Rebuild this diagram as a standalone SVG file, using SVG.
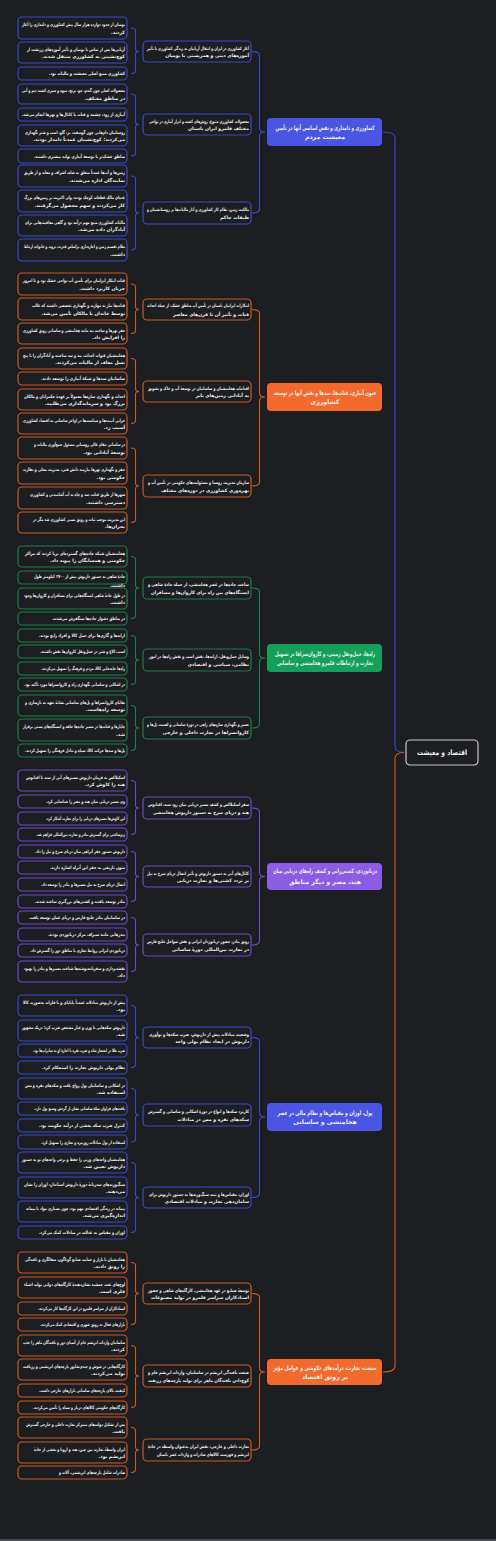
<svg xmlns="http://www.w3.org/2000/svg" width="496" height="1541" viewBox="0 0 496 1541">
<style>
text{font-family:"DejaVu Sans","Noto Sans",sans-serif;fill:#f2f2f2;font-weight:bold;}
.t{font-size:4.6px;direction:rtl;text-anchor:start;}
.tm{font-size:6.2px;text-anchor:middle;direction:rtl;}
.tr{font-size:7.5px;text-anchor:middle;direction:rtl;}
rect{stroke-width:1.2;}
.leaf rect{fill:#1d1e22;}
.cb rect{stroke:#3c48cc;} .co rect{stroke:#c85a22;} .cg rect{stroke:#1a8049;} .cp rect{stroke:#7048c9;}
.main rect{stroke:none;}
.mb rect{fill:#4b55e3;} .mo rect{fill:#f26b2c;} .mg rect{fill:#14a05a;} .mp rect{fill:#8c5ce4;}
#links path{fill:none;stroke-width:1.1;}
.lb{stroke:#3c48cc;} .lo{stroke:#c85a22;} .lg{stroke:#1a8049;} .lp{stroke:#7048c9;}
</style>
<rect width="496" height="1541" fill="#1d1e22"/>
<rect x="0" y="1539" width="496" height="2" fill="#4a4b50"/>

<g id="links">
<path class="lb" stroke-width="1.5" d="M383,132 Q395,132 395,138 L395,746 Q395,752.5 404,752.5"/>
<path class="lo" stroke-width="1.5" d="M404,752.5 Q395,752.5 395,759 L395,1366 Q395,1372 383,1372"/>
<path class="lb" d="M252,51.5 Q259.5,51.5 259.5,55.5 L259.5,128 Q259.5,132 265,132 Q259.5,132 259.5,136 L259.5,209 Q259.5,213 252,213"/>
<path class="lo" d="M252,309.5 Q259.5,309.5 259.5,313.5 L259.5,393 Q259.5,397 265,397 Q259.5,397 259.5,401 L259.5,482 Q259.5,486 252,486"/>
<path class="lg" d="M252,588 Q259.5,588 259.5,592 L259.5,654 Q259.5,658 265,658 Q259.5,658 259.5,662 L259.5,724 Q259.5,728 252,728"/>
<path class="lp" d="M252,808 Q259.5,808 259.5,812 L259.5,872.5 Q259.5,876.5 265,876.5 Q259.5,876.5 259.5,880.5 L259.5,941 Q259.5,945 252,945"/>
<path class="lb" d="M252,1037.5 Q259.5,1037.5 259.5,1041.5 L259.5,1113 Q259.5,1117 265,1117 Q259.5,1117 259.5,1121 L259.5,1193.5 Q259.5,1197.5 252,1197.5"/>
<path class="lo" d="M252,1293.5 Q259.5,1293.5 259.5,1297.5 L259.5,1368 Q259.5,1372 265,1372 Q259.5,1372 259.5,1376 L259.5,1446 Q259.5,1450 252,1450"/>
<path class="lb" d="M131,28 Q135.5,28 135.5,31 L135.5,48.5 Q135.5,51.5 139,51.5 Q135.5,51.5 135.5,54.5 L135.5,70.5 Q135.5,73.5 131,73.5"/>
<path class="lb" d="M131,94 Q135.5,94 135.5,97 L135.5,121.5 Q135.5,124.5 139,124.5 Q135.5,124.5 135.5,127.5 L135.5,153 Q135.5,156 131,156"/>
<path class="lb" d="M131,176 Q135.5,176 135.5,179 L135.5,210 Q135.5,213 139,213 Q135.5,213 135.5,216 L135.5,247 Q135.5,250 131,250"/>
<path class="lo" d="M131,284 Q135.5,284 135.5,287 L135.5,306.5 Q135.5,309.5 139,309.5 Q135.5,309.5 135.5,312.5 L135.5,330.5 Q135.5,333.5 131,333.5"/>
<path class="lo" d="M131,358.5 Q135.5,358.5 135.5,361.5 L135.5,388.5 Q135.5,391.5 139,391.5 Q135.5,391.5 135.5,394.5 L135.5,420.5 Q135.5,423.5 131,423.5"/>
<path class="lo" d="M131,448 Q135.5,448 135.5,451 L135.5,483 Q135.5,486 139,486 Q135.5,486 135.5,489 L135.5,519.5 Q135.5,522.5 131,522.5"/>
<path class="lg" d="M131,556.5 Q135.5,556.5 135.5,559.5 L135.5,585 Q135.5,588 139,588 Q135.5,588 135.5,591 L135.5,615.5 Q135.5,618.5 131,618.5"/>
<path class="lg" d="M131,635.5 Q135.5,635.5 135.5,638.5 L135.5,657 Q135.5,660 139,660 Q135.5,660 135.5,663 L135.5,681.5 Q135.5,684.5 131,684.5"/>
<path class="lg" d="M131,705.5 Q135.5,705.5 135.5,708.5 L135.5,725 Q135.5,728 139,728 Q135.5,728 135.5,731 L135.5,747.5 Q135.5,750.5 131,750.5"/>
<path class="lp" d="M131,780.5 Q135.5,780.5 135.5,783.5 L135.5,805 Q135.5,808 139,808 Q135.5,808 135.5,811 L135.5,831.5 Q135.5,834.5 131,834.5"/>
<path class="lp" d="M131,851.5 Q135.5,851.5 135.5,854.5 L135.5,873.5 Q135.5,876.5 139,876.5 Q135.5,876.5 135.5,879.5 L135.5,898.5 Q135.5,901.5 131,901.5"/>
<path class="lp" d="M131,917.5 Q135.5,917.5 135.5,920.5 L135.5,942 Q135.5,945 139,945 Q135.5,945 135.5,948 L135.5,968.5 Q135.5,971.5 131,971.5"/>
<path class="lb" d="M131,1005.5 Q135.5,1005.5 135.5,1008.5 L135.5,1034.5 Q135.5,1037.5 139,1037.5 Q135.5,1037.5 135.5,1040.5 L135.5,1064.5 Q135.5,1067.5 131,1067.5"/>
<path class="lb" d="M131,1088.5 Q135.5,1088.5 135.5,1091.5 L135.5,1112 Q135.5,1115 139,1115 Q135.5,1115 135.5,1118 L135.5,1139 Q135.5,1142 131,1142"/>
<path class="lb" d="M131,1162.5 Q135.5,1162.5 135.5,1165.5 L135.5,1194.5 Q135.5,1197.5 139,1197.5 Q135.5,1197.5 135.5,1200.5 L135.5,1229.5 Q135.5,1232.5 131,1232.5"/>
<path class="lo" d="M131,1262.5 Q135.5,1262.5 135.5,1265.5 L135.5,1290.5 Q135.5,1293.5 139,1293.5 Q135.5,1293.5 135.5,1296.5 L135.5,1321.5 Q135.5,1324.5 131,1324.5"/>
<path class="lo" d="M131,1345.5 Q135.5,1345.5 135.5,1348.5 L135.5,1373 Q135.5,1376 139,1376 Q135.5,1376 135.5,1379 L135.5,1404.5 Q135.5,1407.5 131,1407.5"/>
<path class="lo" d="M131,1427.5 Q135.5,1427.5 135.5,1430.5 L135.5,1447 Q135.5,1450 139,1450 Q135.5,1450 135.5,1453 L135.5,1469.5 Q135.5,1472.5 131,1472.5"/>
</g>

<g id="root"><rect x="406" y="740" width="72" height="25" rx="4" fill="#1d1e22" stroke="#c8c8c8"/><text class="tr" x="442" y="755.3" textLength="50" lengthAdjust="spacingAndGlyphs">اقتصاد و معیشت</text></g>

<g id="m1" class="main mb"><rect x="267" y="118" width="115" height="28" rx="4"/><text class="tm" x="325" y="129.7" textLength="99" lengthAdjust="spacingAndGlyphs">کشاورزی و دامداری و نقش اساسی آنها در تأمین</text><text class="tm" x="325" y="139">معیشت مردم</text></g>
<g id="m2" class="main mo"><rect x="267" y="383" width="115" height="28" rx="4"/><text class="tm" x="325" y="394.7" textLength="102" lengthAdjust="spacingAndGlyphs">فنون آبیاری، قنات‌ها، سدها و نقش آنها در توسعه</text><text class="tm" x="325" y="404">کشاورزی</text></g>
<g id="m3" class="main mg"><rect x="267" y="644" width="115" height="28" rx="4"/><text class="tm" x="325" y="655.7" textLength="100" lengthAdjust="spacingAndGlyphs">راه‌ها، حمل‌ونقل زمینی، و کاروان‌سراها در تسهیل</text><text class="tm" x="325" y="665" textLength="96" lengthAdjust="spacingAndGlyphs">تجارت و ارتباطات قلمرو هخامنشی و ساسانی</text></g>
<g id="m4" class="main mp"><rect x="267" y="863" width="115" height="27" rx="4"/><text class="tm" x="325" y="873.4" textLength="104" lengthAdjust="spacingAndGlyphs">دریانوردی، کشتی‌رانی و کشف راه‌های دریایی میان</text><text class="tm" x="325" y="884.2">هند، مصر و دیگر مناطق</text></g>
<g id="m5" class="main mb"><rect x="267" y="1103" width="115" height="28" rx="4"/><text class="tm" x="325" y="1114.7" textLength="95" lengthAdjust="spacingAndGlyphs">پول، اوزان و مقیاس‌ها و نظام مالی در عصر</text><text class="tm" x="325" y="1124">هخامنشی و ساسانی</text></g>
<g id="m6" class="main mo"><rect x="267" y="1359" width="115" height="26" rx="4"/><text class="tm" x="325" y="1369.7" textLength="103" lengthAdjust="spacingAndGlyphs">صنعت، تجارت، درآمدهای حکومتی و عوامل مؤثر</text><text class="tm" x="325" y="1379">بر رونق اقتصاد</text></g>

<g id="s1a" class="leaf cb"><rect x="143" y="41" width="108" height="21" rx="4"/><text class="t" x="249" y="49.6" textLength="102" lengthAdjust="spacingAndGlyphs">آغاز کشاورزی در ایران و انتقال آریاییان به زندگی کشاورزی با تأثیر</text><text class="t" x="249" y="57.2">آموزه‌های دینی و همزیستی با بومیان</text></g>
<g id="s1b" class="leaf cb"><rect x="143" y="114" width="108" height="21" rx="4"/><text class="t" x="249" y="122.6" textLength="100" lengthAdjust="spacingAndGlyphs">محصولات کشاورزی متنوع، روش‌های کشت و ابزار آبیاری در نواحی</text><text class="t" x="249" y="130.2">مختلف قلمرو ایران باستان</text></g>
<g id="s1c" class="leaf cb"><rect x="143" y="202" width="108" height="22" rx="4"/><text class="t" x="249" y="211.1" textLength="102" lengthAdjust="spacingAndGlyphs">مالکیت زمین، نظام کار کشاورزی و آثار مالیات‌ها بر روستانشینان و</text><text class="t" x="249" y="218.7">طبقات حاکم</text></g>
<g id="s2a" class="leaf co"><rect x="143" y="299" width="108" height="21" rx="4"/><text class="t" x="249" y="307.2" textLength="102" lengthAdjust="spacingAndGlyphs">ابتکارات ایرانیان باستان در تأمین آب مناطق خشک، از جمله احداث</text><text class="t" x="249" y="315.6">قنات و تأثیر آن تا قرن‌های معاصر</text></g>
<g id="s2b" class="leaf co"><rect x="143" y="381" width="108" height="21" rx="4"/><text class="t" x="249" y="389.6" textLength="101" lengthAdjust="spacingAndGlyphs">اقدامات هخامنشیان و ساسانیان در توسعهٔ آب و خاک و تشویق</text><text class="t" x="249" y="397.2">به آبادانی زمین‌های بایر</text></g>
<g id="s2c" class="leaf co"><rect x="143" y="475" width="108" height="22" rx="4"/><text class="t" x="249" y="484.1" textLength="101" lengthAdjust="spacingAndGlyphs">سازمان مدیریت روستا و مسئولیت‌های حکومتی در تأمین آب و</text><text class="t" x="249" y="491.7">بهره‌وری کشاورزی در دوره‌های مختلف</text></g>
<g id="s3a" class="leaf cg"><rect x="143" y="577" width="108" height="22" rx="4"/><text class="t" x="249" y="586.1" textLength="101" lengthAdjust="spacingAndGlyphs">ساخت جاده‌ها در عصر هخامنشی، از جمله جادهٔ شاهی و</text><text class="t" x="249" y="593.7" textLength="98" lengthAdjust="spacingAndGlyphs">ایستگاه‌های بین راه برای کاروان‌ها و مسافران</text></g>
<g id="s3b" class="leaf cg"><rect x="143" y="649" width="108" height="22" rx="4"/><text class="t" x="249" y="658.1" textLength="100" lengthAdjust="spacingAndGlyphs">وسایل حمل‌ونقل، ارابه‌ها، نقش اسب و نقش راه‌ها در امور</text><text class="t" x="249" y="665.7">نظامی، سیاسی و اقتصادی</text></g>
<g id="s3c" class="leaf cg"><rect x="143" y="717" width="108" height="22" rx="4"/><text class="t" x="249" y="726.1" textLength="102" lengthAdjust="spacingAndGlyphs">تعمیر و نگهداری سازه‌های راهی در دورهٔ ساسانی و اهمیت پل‌ها و</text><text class="t" x="249" y="733.7">کاروانسراها در تجارت داخلی و خارجی</text></g>
<g id="s4a" class="leaf cp"><rect x="143" y="797" width="108" height="22" rx="4"/><text class="t" x="249" y="806.1" textLength="101" lengthAdjust="spacingAndGlyphs">سفر اسکیلاکس و کشف مسیر دریایی میان رود سند، اقیانوس</text><text class="t" x="249" y="813.7" textLength="96" lengthAdjust="spacingAndGlyphs">هند و دریای سرخ به دستور داریوش هخامنشی</text></g>
<g id="s4b" class="leaf cp"><rect x="143" y="866" width="108" height="21" rx="4"/><text class="t" x="249" y="874.6" textLength="102" lengthAdjust="spacingAndGlyphs">کانال‌های آبی به دستور داریوش و تأثیر اتصال دریای سرخ به نیل</text><text class="t" x="249" y="882.2">بر تردد کشتی‌ها و تجارت دریایی</text></g>
<g id="s4c" class="leaf cp"><rect x="143" y="934" width="108" height="22" rx="4"/><text class="t" x="249" y="943.1" textLength="102" lengthAdjust="spacingAndGlyphs">رونق بنادر، حضور دریانوردان ایرانی و نقش سواحل خلیج فارس</text><text class="t" x="249" y="950.7">در تجارت بین‌المللی دورهٔ ساسانی</text></g>
<g id="s5a" class="leaf cb"><rect x="143" y="1027" width="108" height="21" rx="4"/><text class="t" x="249" y="1035.6" textLength="100" lengthAdjust="spacingAndGlyphs">وضعیت مبادلات پیش از داریوش، ضرب سکه‌ها و نوآوری</text><text class="t" x="249" y="1043.2">داریوش در ایجاد نظام پولی واحد</text></g>
<g id="s5b" class="leaf cb"><rect x="143" y="1104" width="108" height="22" rx="4"/><text class="t" x="249" y="1113.1" textLength="101" lengthAdjust="spacingAndGlyphs">کاربرد سکه‌ها و انواع در دورهٔ اشکانی و ساسانی و گسترش</text><text class="t" x="249" y="1120.7">سکه‌های نقره و مس در مبادلات</text></g>
<g id="s5c" class="leaf cb"><rect x="143" y="1187" width="108" height="21" rx="4"/><text class="t" x="249" y="1195.6" textLength="100" lengthAdjust="spacingAndGlyphs">اوزان، مقیاس‌ها و ثبت سنگ‌وزنه‌ها به دستور داریوش برای</text><text class="t" x="249" y="1203.2">سامان‌دهی تجارت و مبادلات اقتصادی</text></g>
<g id="s6a" class="leaf co"><rect x="143" y="1283" width="108" height="21" rx="4"/><text class="t" x="249" y="1291.6" textLength="101" lengthAdjust="spacingAndGlyphs">توسعهٔ صنایع در عهد هخامنشی، کارگاه‌های شاهی و حضور</text><text class="t" x="249" y="1299.2" textLength="98" lengthAdjust="spacingAndGlyphs">استادکاران سراسر قلمرو در تولید مصنوعات</text></g>
<g id="s6b" class="leaf co"><rect x="143" y="1365" width="108" height="22" rx="4"/><text class="t" x="249" y="1374.1" textLength="101" lengthAdjust="spacingAndGlyphs">صنعت بافندگی ابریشم در ساسانیان، واردات ابریشم خام و</text><text class="t" x="249" y="1381.7" textLength="101" lengthAdjust="spacingAndGlyphs">کوچ‌دادن بافندگان ماهر برای تولید پارچه‌های زربفت</text></g>
<g id="s6c" class="leaf co"><rect x="143" y="1439" width="108" height="22" rx="4"/><text class="t" x="249" y="1448.1" textLength="101" lengthAdjust="spacingAndGlyphs">تجارت داخلی و خارجی، نقش ایران به‌عنوان واسطه در جادهٔ</text><text class="t" x="249" y="1455.7" textLength="92" lengthAdjust="spacingAndGlyphs">ابریشم و فهرست کالاهای صادرات و واردات عصر باستان</text></g>

<g id="l1-1" class="leaf cb"><rect x="18" y="17" width="109" height="22" rx="4"/><text class="t" x="125" y="26.1" textLength="103" lengthAdjust="spacingAndGlyphs">بومیان از حدود دوازده هزار سال پیش کشاورزی و دامداری را آغاز</text><text class="t" x="125" y="33.7">کردند.</text></g>
<g id="l1-2" class="leaf cb"><rect x="18" y="42" width="109" height="21" rx="4"/><text class="t" x="125" y="50.6" textLength="98" lengthAdjust="spacingAndGlyphs">آریایی‌ها پس از تماس با بومیان و تأثیر آموزه‌های زرتشت از</text><text class="t" x="125" y="58.2">کوچ‌نشینی به کشاورزی منتقل شدند.</text></g>
<g id="l1-3" class="leaf cb"><rect x="18" y="67" width="109" height="13" rx="4"/><text class="t" x="125" y="75.4" textLength="76" lengthAdjust="spacingAndGlyphs">کشاورزی منبع اصلی معیشت و مالیات بود.</text></g>
<g id="l1-4" class="leaf cb"><rect x="18" y="84" width="109" height="20" rx="4"/><text class="t" x="125" y="92.1" textLength="103" lengthAdjust="spacingAndGlyphs">محصولات اصلی چون گندم، جو، برنج، میوه و سبزی کشت دیم و آبی</text><text class="t" x="125" y="99.7">در مناطق مختلف.</text></g>
<g id="l1-5" class="leaf cb"><rect x="18" y="108" width="109" height="13" rx="4"/><text class="t" x="125" y="116.4" textLength="103" lengthAdjust="spacingAndGlyphs">آبیاری از رود، چشمه و قنات با کانال‌ها و نهرها انجام می‌شد.</text></g>
<g id="l1-6" class="leaf cb"><rect x="18" y="125" width="109" height="21" rx="4"/><text class="t" x="125" y="133.6" textLength="100" lengthAdjust="spacingAndGlyphs">روستاییان دام‌هایی چون گوسفند، بز، گاو، اسب و شتر نگهداری</text><text class="t" x="125" y="141.2">می‌کردند؛ کوچ‌نشینان عمدتاً دامدار بودند.</text></g>
<g id="l1-7" class="leaf cb"><rect x="18" y="149" width="109" height="14" rx="4"/><text class="t" x="125" y="157.9" textLength="91" lengthAdjust="spacingAndGlyphs">مناطق خشک‌تر با توسعهٔ آبیاری تولید بیشتری داشتند.</text></g>
<g id="l1-8" class="leaf cb"><rect x="18" y="165" width="109" height="22" rx="4"/><text class="t" x="125" y="174.1" textLength="101" lengthAdjust="spacingAndGlyphs">زمین‌ها و آب‌ها عمدتاً متعلق به شاه، اشراف و معابد و از طریق</text><text class="t" x="125" y="181.7">نمایندگان اداره می‌شدند.</text></g>
<g id="l1-9" class="leaf cb"><rect x="18" y="190" width="109" height="22" rx="4"/><text class="t" x="125" y="199.1" textLength="101" lengthAdjust="spacingAndGlyphs">عده‌ای مالک قطعات کوچک بودند، ولی اکثریت بر زمین‌های بزرگ</text><text class="t" x="125" y="206.7">کار می‌کردند و سهم محصول می‌گرفتند.</text></g>
<g id="l1-10" class="leaf cb"><rect x="18" y="215" width="109" height="21" rx="4"/><text class="t" x="125" y="223.6" textLength="100" lengthAdjust="spacingAndGlyphs">مالیات کشاورزی منبع مهم درآمد بود و گاهی معافیت‌هایی برای</text><text class="t" x="125" y="231.2">آبادگران داده می‌شد.</text></g>
<g id="l1-11" class="leaf cb"><rect x="18" y="239" width="109" height="22" rx="4"/><text class="t" x="125" y="248.1" textLength="101" lengthAdjust="spacingAndGlyphs">نظام تقسیم زمین و اجاره‌داری براساس قدرت، ثروت و خانواده ارتباط</text><text class="t" x="125" y="255.7">داشت.</text></g>

<g id="l2-1" class="leaf co"><rect x="18" y="273" width="109" height="22" rx="4"/><text class="t" x="125" y="282.1" textLength="102" lengthAdjust="spacingAndGlyphs">قنات ابتکار ایرانیان برای تأمین آب نواحی خشک بود و تا امروز</text><text class="t" x="125" y="289.7">جریان کاربرد داشت.</text></g>
<g id="l2-2" class="leaf co"><rect x="18" y="298" width="109" height="22" rx="4"/><text class="t" x="125" y="307.1" textLength="93" lengthAdjust="spacingAndGlyphs">قنات‌ها نیاز به مهارت و نگهداری تخصصی داشتند که غالب</text><text class="t" x="125" y="314.7">توسط خاندان یا مالکان تأمین می‌شد.</text></g>
<g id="l2-3" class="leaf co"><rect x="18" y="323" width="109" height="21" rx="4"/><text class="t" x="125" y="331.6" textLength="102" lengthAdjust="spacingAndGlyphs">حفر نهرها و ساخت بند مانند هخامنشی و ساسانی رونق کشاورزی</text><text class="t" x="125" y="339.2">را افزایش داد.</text></g>
<g id="l2-4" class="leaf co"><rect x="18" y="348" width="109" height="21" rx="4"/><text class="t" x="125" y="356.6" textLength="102" lengthAdjust="spacingAndGlyphs">هخامنشیان قنوات احداث، بند و سد ساختند و آبادگران را تا پنج</text><text class="t" x="125" y="364.2">نسل معاف از مالیات می‌کردند.</text></g>
<g id="l2-5" class="leaf co"><rect x="18" y="372" width="109" height="13" rx="4"/><text class="t" x="125" y="380.4" textLength="84" lengthAdjust="spacingAndGlyphs">ساسانیان سدها و شبکهٔ آبیاری را توسعه دادند.</text></g>
<g id="l2-6" class="leaf co"><rect x="18" y="389" width="109" height="21" rx="4"/><text class="t" x="125" y="397.6" textLength="101" lengthAdjust="spacingAndGlyphs">احداث و نگهداری سازه‌ها معمولاً بر عهدهٔ حکمرانان و مالکان</text><text class="t" x="125" y="405.2">بزرگ بود و سرمایه‌گذاری می‌طلبید.</text></g>
<g id="l2-7" class="leaf co"><rect x="18" y="413" width="109" height="21" rx="4"/><text class="t" x="125" y="421.6" textLength="102" lengthAdjust="spacingAndGlyphs">خرابی آب‌بندها و سیاست‌ها در اواخر ساسانی به اقتصاد کشاورزی</text><text class="t" x="125" y="429.2">آسیب زد.</text></g>
<g id="l2-8" class="leaf co"><rect x="18" y="437" width="109" height="22" rx="4"/><text class="t" x="125" y="446.1" textLength="91" lengthAdjust="spacingAndGlyphs">در ساسانی مقام عالی روستایی مسئول جمع‌آوری مالیات و</text><text class="t" x="125" y="453.7">توسعهٔ آبادانی بود.</text></g>
<g id="l2-9" class="leaf co"><rect x="18" y="462" width="109" height="22" rx="4"/><text class="t" x="125" y="471.1" textLength="102" lengthAdjust="spacingAndGlyphs">حفر و نگهداری نهرها نیازمند دانش فنی، مدیریت محلی و نظارت</text><text class="t" x="125" y="478.7">حکومتی بود.</text></g>
<g id="l2-10" class="leaf co"><rect x="18" y="487" width="109" height="22" rx="4"/><text class="t" x="125" y="496.1" textLength="95" lengthAdjust="spacingAndGlyphs">شهرها از طریق قنات، سد و چاه به آب آشامیدنی و کشاورزی</text><text class="t" x="125" y="503.7">دسترسی داشتند.</text></g>
<g id="l2-11" class="leaf co"><rect x="18" y="512" width="109" height="21" rx="4"/><text class="t" x="125" y="520.6" textLength="92" lengthAdjust="spacingAndGlyphs">این مدیریت موجب ثبات و رونق نسبی کشاورزی شد مگر در</text><text class="t" x="125" y="528.2">بحران‌ها.</text></g>

<g id="l3-1" class="leaf cg"><rect x="18" y="546" width="109" height="21" rx="4"/><text class="t" x="125" y="554.6" textLength="100" lengthAdjust="spacingAndGlyphs">هخامنشیان شبکه جاده‌های گسترده‌ای برپا کردند که مراکز</text><text class="t" x="125" y="562.2">حکومتی و همسایگان را پیوند داد.</text></g>
<g id="l3-2" class="leaf cg"><rect x="18" y="571" width="109" height="13" rx="4"/><text class="t" x="125" y="577.9" textLength="91" lengthAdjust="spacingAndGlyphs">جادهٔ شاهی به دستور داریوش بیش از ۲۷۰۰ کیلومتر طول</text><text class="t" x="125" y="586.9">داشت.</text></g>
<g id="l3-3" class="leaf cg"><rect x="18" y="588" width="109" height="21" rx="4"/><text class="t" x="125" y="596.6" textLength="101" lengthAdjust="spacingAndGlyphs">در طول جادهٔ شاهی ایستگاه‌هایی برای مسافران و کاروان‌ها وجود</text><text class="t" x="125" y="604.2">داشت.</text></g>
<g id="l3-4" class="leaf cg"><rect x="18" y="612" width="109" height="13" rx="4"/><text class="t" x="125" y="620.4" textLength="73" lengthAdjust="spacingAndGlyphs">در مناطق دشوار جاده‌ها سنگفرش می‌شدند.</text></g>
<g id="l3-5" class="leaf cg"><rect x="18" y="629" width="109" height="13" rx="4"/><text class="t" x="125" y="637.4" textLength="86" lengthAdjust="spacingAndGlyphs">ارابه‌ها و گاری‌ها برای حمل کالا و افراد رایج بودند.</text></g>
<g id="l3-6" class="leaf cg"><rect x="18" y="645" width="109" height="13" rx="4"/><text class="t" x="125" y="653.4" textLength="85" lengthAdjust="spacingAndGlyphs">اسب، الاغ و شتر در حمل‌ونقل کاروان‌ها نقش داشتند.</text></g>
<g id="l3-7" class="leaf cg"><rect x="18" y="662" width="109" height="13" rx="4"/><text class="t" x="125" y="670.4" textLength="84" lengthAdjust="spacingAndGlyphs">راه‌ها جابه‌جایی کالا، مردم و فرهنگ را تسهیل می‌کردند.</text></g>
<g id="l3-8" class="leaf cg"><rect x="18" y="678" width="109" height="13" rx="4"/><text class="t" x="125" y="686.4" textLength="101" lengthAdjust="spacingAndGlyphs">در اشکانی و ساسانی نگهداری راه و کاروانسراها مورد تأکید بود.</text></g>
<g id="l3-9" class="leaf cg"><rect x="18" y="695" width="109" height="21" rx="4"/><text class="t" x="125" y="703.6" textLength="100" lengthAdjust="spacingAndGlyphs">بقایای کاروانسراها و پل‌های ساسانی نشانهٔ تعهد به بازسازی و</text><text class="t" x="125" y="711.2">توسعه راه‌هاست.</text></g>
<g id="l3-10" class="leaf cg"><rect x="18" y="719" width="109" height="22" rx="4"/><text class="t" x="125" y="728.1" textLength="102" lengthAdjust="spacingAndGlyphs">چاپارها و قنات‌ها در مسیر جاده‌ها حلقه و ایستگاه‌های پستی برقرار</text><text class="t" x="125" y="735.7">شد.</text></g>
<g id="l3-11" class="leaf cg"><rect x="18" y="744" width="109" height="13" rx="4"/><text class="t" x="125" y="752.4" textLength="100" lengthAdjust="spacingAndGlyphs">پل‌ها و سدها حرکت کالا، سپاه و تبادل فرهنگی را تسهیل کردند.</text></g>

<g id="l4-1" class="leaf cp"><rect x="18" y="770" width="109" height="21" rx="4"/><text class="t" x="125" y="778.6" textLength="99" lengthAdjust="spacingAndGlyphs">اسکیلاکس به فرمان داریوش مسیرهای آبی از سند تا اقیانوس</text><text class="t" x="125" y="786.2">هند را کاوش کرد.</text></g>
<g id="l4-2" class="leaf cp"><rect x="18" y="795" width="109" height="13" rx="4"/><text class="t" x="125" y="803.4" textLength="79" lengthAdjust="spacingAndGlyphs">وی مسیر دریایی میان هند و مصر را شناسایی کرد.</text></g>
<g id="l4-3" class="leaf cp"><rect x="18" y="812" width="109" height="13" rx="4"/><text class="t" x="125" y="820.4" textLength="79" lengthAdjust="spacingAndGlyphs">این کاوش‌ها مسیرهای دریایی را برای تجارت آشکار کرد.</text></g>
<g id="l4-4" class="leaf cp"><rect x="18" y="828" width="109" height="13" rx="4"/><text class="t" x="125" y="836.4" textLength="89" lengthAdjust="spacingAndGlyphs">زیرساختی برای گسترش بنادر و تجارت بین‌المللی فراهم شد.</text></g>
<g id="l4-5" class="leaf cp"><rect x="18" y="845" width="109" height="13" rx="4"/><text class="t" x="125" y="853.4" textLength="90" lengthAdjust="spacingAndGlyphs">داریوش دستور حفر آبراهی میان دریای سرخ و نیل را داد.</text></g>
<g id="l4-6" class="leaf cp"><rect x="18" y="861" width="109" height="13" rx="4"/><text class="t" x="125" y="869.4" textLength="75" lengthAdjust="spacingAndGlyphs">متون تاریخی به حفر این آبراه اشاره دارند.</text></g>
<g id="l4-7" class="leaf cp"><rect x="18" y="878" width="109" height="13" rx="4"/><text class="t" x="125" y="886.4" textLength="84" lengthAdjust="spacingAndGlyphs">اتصال دریای سرخ به نیل مسیرها و بنادر را توسعه داد.</text></g>
<g id="l4-8" class="leaf cp"><rect x="18" y="895" width="109" height="13" rx="4"/><text class="t" x="125" y="903.4" textLength="90" lengthAdjust="spacingAndGlyphs">بنادر توسعه یافتند و کشتی‌های بزرگتری ساخته شدند.</text></g>
<g id="l4-9" class="leaf cp"><rect x="18" y="911" width="109" height="13" rx="4"/><text class="t" x="125" y="919.4" textLength="96" lengthAdjust="spacingAndGlyphs">در ساسانیان بنادر خلیج فارس و دریای عمان توسعه یافت.</text></g>
<g id="l4-10" class="leaf cp"><rect x="18" y="928" width="109" height="13" rx="4"/><text class="t" x="125" y="936.4" textLength="77" lengthAdjust="spacingAndGlyphs">بندرهایی مانند سیراف مرکز دریانوردی بودند.</text></g>
<g id="l4-11" class="leaf cp"><rect x="18" y="944" width="109" height="13" rx="4"/><text class="t" x="125" y="952.4" textLength="95" lengthAdjust="spacingAndGlyphs">دریانوردی ایرانی روابط تجاری با مناطق دور را گسترش داد.</text></g>
<g id="l4-12" class="leaf cp"><rect x="18" y="961" width="109" height="21" rx="4"/><text class="t" x="125" y="969.6" textLength="101" lengthAdjust="spacingAndGlyphs">نقشه‌برداری و سفرنامه‌نوشته‌ها شناخت مسیرها و بنادر را بهبود</text><text class="t" x="125" y="977.2">داد.</text></g>

<g id="l5-1" class="leaf cb"><rect x="18" y="995" width="109" height="21" rx="4"/><text class="t" x="125" y="1003.6" textLength="102" lengthAdjust="spacingAndGlyphs">پیش از داریوش مبادلات عمدتاً پایاپای و با فلزات به‌صورت کالا</text><text class="t" x="125" y="1011.2">بود.</text></g>
<g id="l5-2" class="leaf cb"><rect x="18" y="1020" width="109" height="21" rx="4"/><text class="t" x="125" y="1028.6" textLength="103" lengthAdjust="spacingAndGlyphs">داریوش سکه‌هایی با وزن و عیار مشخص ضرب کرد؛ دریک مشهور</text><text class="t" x="125" y="1036.2">شد.</text></g>
<g id="l5-3" class="leaf cb"><rect x="18" y="1044" width="109" height="13" rx="4"/><text class="t" x="125" y="1052.4" textLength="92" lengthAdjust="spacingAndGlyphs">ضرب طلا در انحصار شاه و ضرب نقره با اجازهٔ او به ساتراپ‌ها بود.</text></g>
<g id="l5-4" class="leaf cb"><rect x="18" y="1061" width="109" height="13" rx="4"/><text class="t" x="125" y="1069.4" textLength="83" lengthAdjust="spacingAndGlyphs">نظام پولی داریوش تجارت را استحکام کرد.</text></g>
<g id="l5-5" class="leaf cb"><rect x="18" y="1078" width="109" height="21" rx="4"/><text class="t" x="125" y="1086.6" textLength="100" lengthAdjust="spacingAndGlyphs">در اشکانی و ساسانیان پول رواج یافت و سکه‌های نقره و مس</text><text class="t" x="125" y="1094.2">استفاده شد.</text></g>
<g id="l5-6" class="leaf cb"><rect x="18" y="1102" width="109" height="13" rx="4"/><text class="t" x="125" y="1110.4" textLength="91" lengthAdjust="spacingAndGlyphs">یافته‌های فراوان سکهٔ ساسانی نشان از گردش وسیع پول دارد.</text></g>
<g id="l5-7" class="leaf cb"><rect x="18" y="1119" width="109" height="13" rx="4"/><text class="t" x="125" y="1127.4" textLength="86" lengthAdjust="spacingAndGlyphs">کنترل ضرب سکه بخشی از درآمد حکومت بود.</text></g>
<g id="l5-8" class="leaf cb"><rect x="18" y="1135" width="109" height="14" rx="4"/><text class="t" x="125" y="1143.9" textLength="84" lengthAdjust="spacingAndGlyphs">استفاده از پول مبادلات روزمره و تجاری را تسهیل کرد.</text></g>
<g id="l5-9" class="leaf cb"><rect x="18" y="1152" width="109" height="21" rx="4"/><text class="t" x="125" y="1160.6" textLength="103" lengthAdjust="spacingAndGlyphs">هخامنشیان واحدهای وزنی را حفظ و برخی واحدهای نو به دستور</text><text class="t" x="125" y="1168.2">داریوش تعیین شد.</text></g>
<g id="l5-10" class="leaf cb"><rect x="18" y="1177" width="109" height="21" rx="4"/><text class="t" x="125" y="1185.6" textLength="101" lengthAdjust="spacingAndGlyphs">سنگ‌وزنه‌های سه‌زبانهٔ دورهٔ داریوش استاندارد اوزان را نشان</text><text class="t" x="125" y="1193.2">می‌دهند.</text></g>
<g id="l5-11" class="leaf cb"><rect x="18" y="1201" width="109" height="21" rx="4"/><text class="t" x="125" y="1209.6" textLength="99" lengthAdjust="spacingAndGlyphs">پیمانه در زندگی اقتصادی مهم بود، چون بسیاری مواد با پیمانه</text><text class="t" x="125" y="1217.2">اندازه‌گیری می‌شد.</text></g>
<g id="l5-12" class="leaf cb"><rect x="18" y="1226" width="109" height="13" rx="4"/><text class="t" x="125" y="1234.4" textLength="86" lengthAdjust="spacingAndGlyphs">اوزان و مقیاس به عدالت در مبادلات کمک می‌کرد.</text></g>

<g id="l6-1" class="leaf co"><rect x="18" y="1252" width="109" height="21" rx="4"/><text class="t" x="125" y="1260.6" textLength="100" lengthAdjust="spacingAndGlyphs">هخامنشیان با بازار و حمایت صنایع گوناگون، سفالگری و بافندگی</text><text class="t" x="125" y="1268.2">را رونق دادند.</text></g>
<g id="l6-2" class="leaf co"><rect x="18" y="1277" width="109" height="21" rx="4"/><text class="t" x="125" y="1285.6" textLength="101" lengthAdjust="spacingAndGlyphs">لوح‌های تخت جمشید نشان‌دهندهٔ کارگاه‌های دولتی تولید اشیاء</text><text class="t" x="125" y="1293.2">فلزی است.</text></g>
<g id="l6-3" class="leaf co"><rect x="18" y="1302" width="109" height="13" rx="4"/><text class="t" x="125" y="1310.4" textLength="87" lengthAdjust="spacingAndGlyphs">استادکاران از سراسر قلمرو در این کارگاه‌ها کار می‌کردند.</text></g>
<g id="l6-4" class="leaf co"><rect x="18" y="1318" width="109" height="13" rx="4"/><text class="t" x="125" y="1326.4" textLength="85" lengthAdjust="spacingAndGlyphs">بازارهای فعال به رونق شهری و اقتصادی کمک می‌کردند.</text></g>
<g id="l6-5" class="leaf co"><rect x="18" y="1335" width="109" height="21" rx="4"/><text class="t" x="125" y="1343.6" textLength="102" lengthAdjust="spacingAndGlyphs">ساسانیان واردات ابریشم خام از آسیای دور و بافندگان ماهر را جذب</text><text class="t" x="125" y="1351.2">کردند.</text></g>
<g id="l6-6" class="leaf co"><rect x="18" y="1359" width="109" height="21" rx="4"/><text class="t" x="125" y="1367.6" textLength="102" lengthAdjust="spacingAndGlyphs">کارگاه‌هایی در شوش و جندی‌شاپور پارچه‌های ابریشمی و زربافت</text><text class="t" x="125" y="1375.2">تولید می‌کردند.</text></g>
<g id="l6-7" class="leaf co"><rect x="18" y="1384" width="109" height="13" rx="4"/><text class="t" x="125" y="1392.4" textLength="86" lengthAdjust="spacingAndGlyphs">کیفیت بالای پارچه‌های ساسانی بازارهای خارجی داشت.</text></g>
<g id="l6-8" class="leaf co"><rect x="18" y="1401" width="109" height="13" rx="4"/><text class="t" x="125" y="1409.4" textLength="92" lengthAdjust="spacingAndGlyphs">کارگاه‌های حکومتی کالاهای دربار و سپاه را تأمین می‌کردند.</text></g>
<g id="l6-9" class="leaf co"><rect x="18" y="1417" width="109" height="21" rx="4"/><text class="t" x="125" y="1425.6" textLength="99" lengthAdjust="spacingAndGlyphs">پس از تشکیل دولت‌های متمرکز تجارت داخلی و خارجی گسترش</text><text class="t" x="125" y="1433.2">یافت.</text></g>
<g id="l6-10" class="leaf co"><rect x="18" y="1442" width="109" height="21" rx="4"/><text class="t" x="125" y="1450.6" textLength="91" lengthAdjust="spacingAndGlyphs">ایران واسطهٔ تجارت بین چین، هند و اروپا و بخشی از جادهٔ</text><text class="t" x="125" y="1458.2">ابریشم بود.</text></g>
<g id="l6-11" class="leaf co"><rect x="18" y="1466" width="109" height="13" rx="4"/><text class="t" x="125" y="1474.4" textLength="66" lengthAdjust="spacingAndGlyphs">صادرات شامل پارچه‌های ابریشمی، آلات و</text></g>
</svg>
